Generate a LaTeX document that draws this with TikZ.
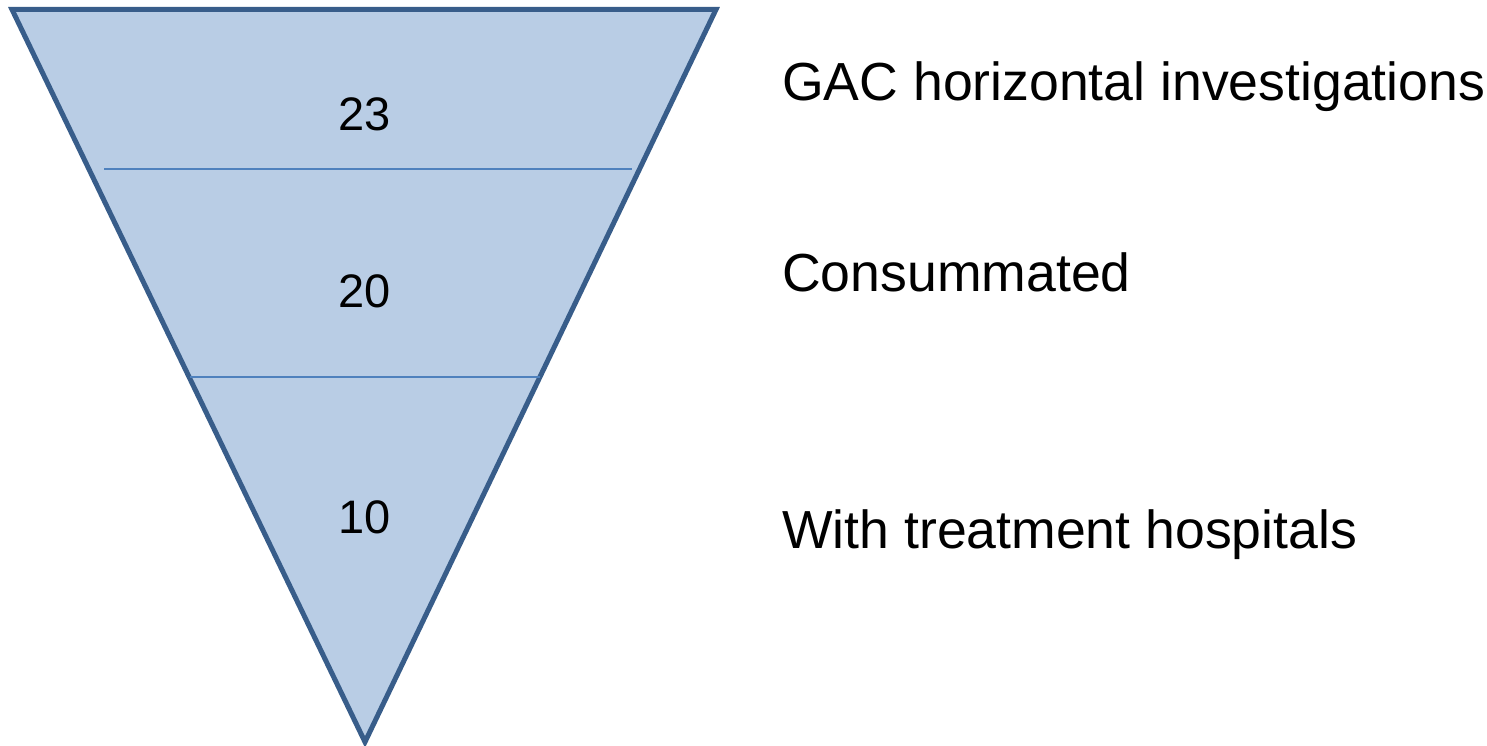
\documentclass[tikz,border=0pt]{standalone}
\usepackage{fontspec}
\setmainfont{Liberation Sans}
\usetikzlibrary{positioning}
\definecolor{funnelfill}{HTML}{B9CDE5}
\definecolor{funneledge}{HTML}{385D8A}
\definecolor{funnelline}{HTML}{4F81BD}
\tikzset{
  funnel/.style={draw=funneledge, fill=funnelfill, line width=5pt, miter limit=20},
  divider/.style={draw=funnelline, line width=2.4pt},
  count/.style={anchor=base, inner sep=0pt, font=\fontsize{47}{56}\selectfont},
  stagelabel/.style={anchor=base west, inner sep=0pt, font=\fontsize{53.6}{64}\selectfont}
}
\begin{document}
\begin{tikzpicture}[x=1pt,y=1pt]
\useasboundingbox (0,0) rectangle (1487,746);
\coordinate (tl) at (12,736.5);
\coordinate (tr) at (716,736.5);
\coordinate (apex) at (365,4);
\draw[funnel] (tl) -- (tr) -- (apex) -- cycle;
% stage dividers
\coordinate (d1l) at (104,577);
\coordinate (d1r) at (632,577);
\coordinate (d2l) at (190,369);
\coordinate (d2r) at (540,369);
\draw[divider] (d1l) -- (d1r);
\draw[divider] (d2l) -- (d2r);
% counts
\node[count] (n1) at (365,615) {23};
\node[count] (n2) at (365,438) {20};
\node[count] (n3) at (365,212) {10};
% stage labels
\node[stagelabel] (s1) at (782,645) {GAC horizontal investigations};
\node[stagelabel] (s2) at (782,454) {Consummated};
\node[stagelabel] (s3) at (782,197) {With treatment hospitals};
\end{tikzpicture}
\end{document}
